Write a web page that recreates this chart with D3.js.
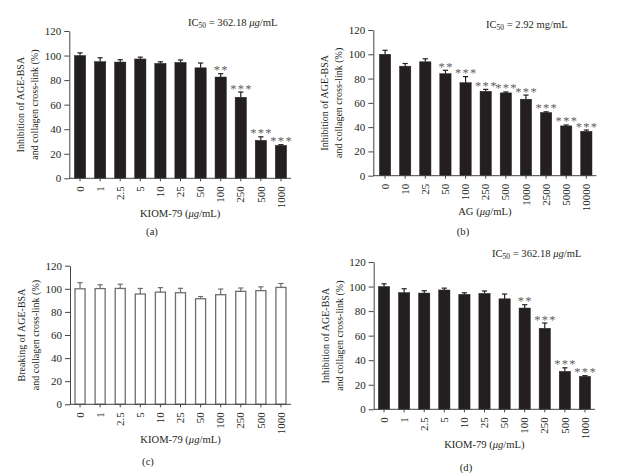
<!DOCTYPE html>
<html>
<head>
<meta charset="utf-8">
<script src="https://cdn.jsdelivr.net/npm/d3@7/dist/d3.min.js"></script>
<style>
  body { margin: 0; background: #fff; }
  svg { display: block; }
</style>
</head>
<body>
<script>
// ---------- data ----------
const catsKiom = ["0", "1", "2.5", "5", "10", "25", "50", "100", "250", "500", "1000"];
const valsKiomInhib = [100, 95, 94.7, 97.2, 93.6, 94.4, 90, 82.5, 66, 30.9, 26.8];
const errKiomInhib = [2.2, 3.2, 1.9, 1.5, 1.3, 2.0, 3.9, 2.7, 4.3, 2.9, 0.6];
const starsKiomInhib = ["", "", "", "", "", "", "", "**", "***", "***", "***"];

const catsAG = ["0", "10", "25", "50", "100", "250", "500", "1000", "2500", "5000", "10000"];
const valsAG = [100, 90.2, 93.8, 84, 76.6, 69.5, 68.2, 63, 52, 41, 36.5];
const errAG = [3.3, 2.2, 2.5, 2.8, 5, 1.6, 0.8, 3.4, 0.6, 0.8, 1.1];
const starsAG = ["", "", "", "**", "***", "***", "***", "***", "***", "***", "***"];

const valsKiomBreak = [100, 100.2, 100.3, 95.5, 97.1, 96.6, 91.4, 94.9, 97.8, 98.4, 101.2];
const errKiomBreak = [5.3, 3.3, 3.7, 4.8, 3.9, 3.8, 1.9, 4.9, 2.9, 3.3, 3.4];

const yTicks = [0, 20, 40, 60, 80, 100, 120];

// ---------- drawing ----------
const FONT = "'Liberation Serif','Times New Roman',serif";
const INK = "#231f20";
const svg = d3.select("body").append("svg").attr("width", 617).attr("height", 475)
  .style("font-family", FONT);

function drawPanel(p) {
  const x = d3.scaleBand().domain(p.cats).range([p.x0, p.x1]).paddingInner(0.44).paddingOuter(0.22);
  const y = d3.scaleLinear().domain([0, 120]).range([p.yb, p.yt]);
  const g = svg.append("g");
  const errColor = p.open ? "#6d6e71" : INK;

  // error bars (stem + cap, upward only)
  const eb = g.append("g").attr("stroke", errColor).attr("stroke-width", 1.2);
  p.vals.forEach((v, i) => {
    const cx = x(p.cats[i]) + x.bandwidth() / 2;
    eb.append("line").attr("x1", cx).attr("x2", cx).attr("y1", y(v)).attr("y2", y(v + p.err[i]));
    eb.append("line").attr("x1", cx - 2.6).attr("x2", cx + 2.6).attr("y1", y(v + p.err[i])).attr("y2", y(v + p.err[i]));
  });

  // bars
  g.append("g").selectAll("rect").data(p.vals).join("rect")
    .attr("x", (d, i) => x(p.cats[i]) + (p.open ? 0.6 : 0))
    .attr("y", d => y(d))
    .attr("width", x.bandwidth() - (p.open ? 1.2 : 0))
    .attr("height", d => y(0) - y(d))
    .attr("fill", p.open ? "#fff" : INK)
    .attr("stroke", p.open ? "#6d6e71" : INK)
    .attr("stroke-width", p.open ? 1.3 : 0.5);

  // stars
  if (p.stars) {
    g.append("g").selectAll("text").data(p.vals).join("text")
      .attr("x", (d, i) => x(p.cats[i]) + x.bandwidth() / 2 + 0.7)
      .attr("y", (d, i) => y(d + p.err[i]) + 0.5)
      .attr("text-anchor", "middle")
      .attr("font-size", 12.5)
      .attr("letter-spacing", 1.3)
      .attr("fill", "#5f6062")
      .text((d, i) => p.stars[i]);
  }

  // y axis
  const ya = g.append("g").attr("transform", `translate(${p.ax},0)`)
    .call(d3.axisLeft(y).tickValues(yTicks).tickSize(5).tickSizeOuter(0).tickPadding(3));
  ya.select(".domain").attr("stroke", "#444").attr("stroke-width", 1);
  ya.selectAll(".tick line").attr("stroke", "#444");
  ya.selectAll(".tick text").attr("font-size", 11).attr("font-family", FONT).attr("fill", INK);

  // x axis
  const xa = g.append("g").attr("transform", `translate(0,${p.yb})`)
    .call(d3.axisBottom(x).tickSize(3).tickSizeOuter(0).tickPadding(4));
  xa.select(".domain").remove();
  xa.append("line").attr("x1", p.ax).attr("x2", p.x1).attr("y1", 0).attr("y2", 0)
    .attr("stroke", "#444").attr("stroke-width", 1);
  xa.selectAll(".tick line").attr("stroke", "#444");
  xa.selectAll(".tick text")
    .attr("font-size", 11).attr("font-family", FONT).attr("fill", INK)
    .attr("transform", "rotate(-90)")
    .attr("text-anchor", "end")
    .attr("x", -8).attr("y", 0).attr("dy", "0.33em");

  // y label (two lines)
  const midY = (p.yt + p.yb) / 2;
  p.ylabel.forEach((line, k) => {
    const bx = p.ax - (k === 0 ? 45 : 31);
    g.append("text").attr("transform", `translate(${bx},${midY}) rotate(-90)`)
      .attr("text-anchor", "middle").attr("font-size", 10).attr("fill", INK).text(line);
  });

  // x label
  const xl = g.append("text").attr("x", (p.ax + p.x1) / 2).attr("y", p.yb + 39)
    .attr("text-anchor", "middle").attr("font-size", 10.6).attr("fill", INK);
  xl.append("tspan").text(p.xlabel + " (");
  xl.append("tspan").attr("font-style", "italic").text("μg");
  xl.append("tspan").text("/mL)");

  // panel letter
  g.append("text").attr("x", p.letterX).attr("y", p.letterY).attr("text-anchor", "middle")
    .attr("font-size", 10.6).attr("fill", INK).text(p.letter);

  // IC50 annotation
  if (p.ic) {
    const t = g.append("text").attr("x", p.ic.x).attr("y", p.ic.y).attr("font-size", 10.6).attr("fill", INK);
    t.append("tspan").text("IC");
    t.append("tspan").attr("font-size", 7.5).attr("dy", 2).text("50");
    t.append("tspan").attr("dy", -2).text(" = " + p.ic.val + " ");
    if (p.ic.italicUnit) {
      t.append("tspan").attr("font-style", "italic").text("μg");
      t.append("tspan").text("/mL");
    } else {
      t.append("tspan").text("mg/mL");
    }
  }
}

drawPanel({
  cats: catsKiom, vals: valsKiomInhib, err: errKiomInhib, stars: starsKiomInhib,
  ax: 69.3, x0: 70, x1: 291, yt: 31, yb: 178.3, open: false,
  ylabel: ["Inhibition of AGE-BSA", "and collagen cross-link (%)"], xlabel: "KIOM-79",
  letter: "(a)", letterX: 152, letterY: 235,
  ic: { x: 188, y: 26, val: "362.18", italicUnit: true }
});

drawPanel({
  cats: catsAG, vals: valsAG, err: errAG, stars: starsAG,
  ax: 373.3, x0: 375, x1: 596.4, yt: 30, yb: 175.7, open: false,
  ylabel: ["Inhibition of AGE-BSA", "and collagen cross-link (%)"], xlabel: "AG",
  letter: "(b)", letterX: 463, letterY: 235,
  ic: { x: 486, y: 28, val: "2.92", italicUnit: false }
});

drawPanel({
  cats: catsKiom, vals: valsKiomBreak, err: errKiomBreak, stars: null,
  ax: 70, x0: 70, x1: 291, yt: 265.7, yb: 404.3, open: true,
  ylabel: ["Breaking of AGE-BSA", "and collagen cross-link (%)"], xlabel: "KIOM-79",
  letter: "(c)", letterX: 148, letterY: 465,
  ic: null
});

drawPanel({
  cats: catsKiom, vals: valsKiomInhib, err: errKiomInhib, stars: starsKiomInhib,
  ax: 373.7, x0: 374, x1: 595, yt: 262, yb: 409.3, open: false,
  ylabel: ["Inhibition of AGE-BSA", "and collagen cross-link (%)"], xlabel: "KIOM-79",
  letter: "(d)", letterX: 466, letterY: 471,
  ic: { x: 492, y: 257, val: "362.18", italicUnit: true }
});
</script>
</body>
</html>
